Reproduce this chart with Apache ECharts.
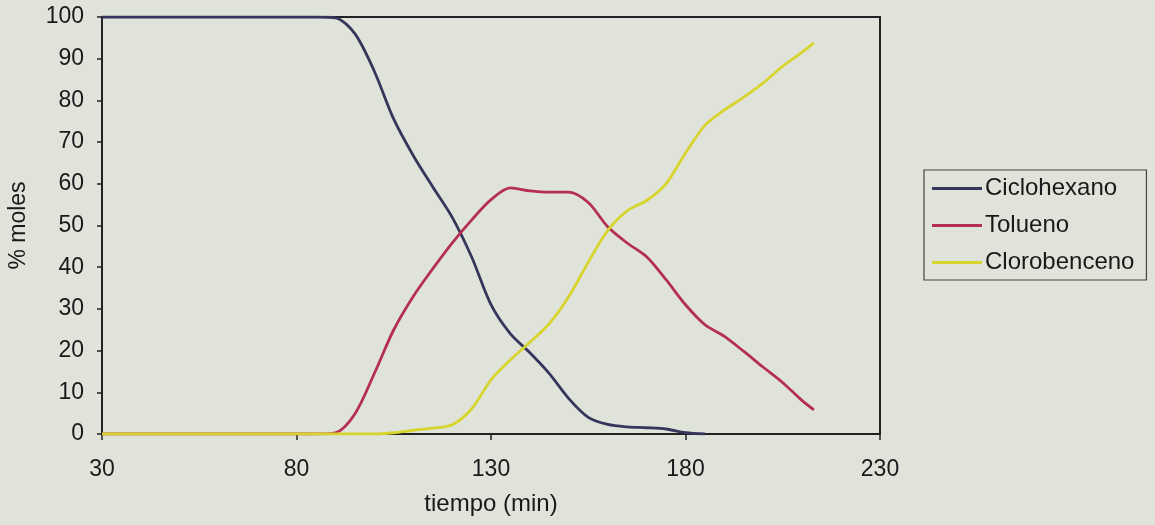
<!DOCTYPE html>
<html>
<head>
<meta charset="utf-8">
<script src="https://cdn.jsdelivr.net/npm/echarts@6/dist/echarts.min.js"></script>
<style>
  html, body { margin: 0; padding: 0; background: #dfe3da; }
  #chart { width: 1155px; height: 525px; }
</style>
</head>
<body>
<div id="chart"></div>
<script>
// Composición de la mezcla (% moles) frente al tiempo de destilación
const tiempo = [30, 35, 40, 45, 50, 55, 60, 65, 70, 75, 80, 85, 90, 95, 100, 105, 110, 115, 120, 125, 130,
  135, 140, 145, 150, 155, 160, 165, 170, 175, 180, 185, 190, 195, 200, 205, 210, 213];

const ciclohexano = [100, 100, 100, 100, 100, 100, 100, 100, 100, 100, 100, 100, 99.8, 96, 87, 75.5, 66.8, 59.3, 52, 42.5, 31,
  24, 19.5, 14.5, 8.5, 4, 2.3, 1.7, 1.5, 1.2, 0.3, 0, null, null, null, null, null, null];

const tolueno = [0, 0, 0, 0, 0, 0, 0, 0, 0, 0, 0, 0, 0.3, 4.8, 14.5, 25, 33, 39.6, 45.8, 51.3, 56.2,
  59, 58.3, 58, 58, 55.5, 49.7, 45.8, 42.5, 37, 31, 26.2, 23.4, 19.8, 16, 12.3, 8, 5.8];

const clorobenceno = [0, 0, 0, 0, 0, 0, 0, 0, 0, 0, 0, 0, 0, 0, 0, 0.3, 0.9, 1.4, 2.2, 6, 13,
  17.8, 22, 26.5, 33, 41.2, 48.8, 53.5, 56, 60, 67.4, 74, 77.7, 80.8, 84.2, 88.2, 91.6, 93.8];

const xTicks = [30, 80, 130, 180, 230];

const colores = { ciclohexano: '#36365c', tolueno: '#b52f50', clorobenceno: '#d8d42e' };
const fuente = 'Liberation Sans, Arial, sans-serif';
const tinta = '#191919';

function serie(nombre, valores, color) {
  return {
    name: nombre,
    type: 'line',
    data: tiempo.map((t, i) => [t, valores[i]]).filter(p => p[1] !== null),
    showSymbol: false,
    smooth: 0.3,
    lineStyle: { color: color, width: 2.8 },
    itemStyle: { color: color },
    z: 3
  };
}

const chart = echarts.init(document.getElementById('chart'));
chart.setOption({
  backgroundColor: '#dfe3da',
  animation: false,
  textStyle: { fontFamily: fuente },
  grid: {
    left: 102, top: 17, width: 778, height: 417,
    outerBoundsMode: 'none',
    containLabel: false,
    show: true, borderColor: '#222', borderWidth: 2, backgroundColor: 'transparent'
  },
  legend: {
    orient: 'vertical',
    left: 924, top: 170,
    padding: [6, 12, 5, 8],
    itemGap: 12,
    itemWidth: 50, itemHeight: 3,
    icon: 'rect',
    borderColor: '#444', borderWidth: 1.2,
    textStyle: { fontSize: 24, lineHeight: 25, color: tinta, fontFamily: fuente, padding: [0, 0, 0, -2] },
    data: ['Ciclohexano', 'Tolueno', 'Clorobenceno']
  },
  xAxis: {
    type: 'value',
    min: 30, max: 230, interval: 50,
    name: 'tiempo (min)',
    nameLocation: 'middle', nameGap: 58,
    nameTextStyle: { fontSize: 24, color: tinta, fontFamily: fuente },
    axisLine: { show: true, lineStyle: { color: '#222', width: 2 } },
    axisTick: { show: true, length: 6, lineStyle: { color: '#222', width: 1.5 } },
    axisLabel: { fontSize: 23, color: tinta, margin: 24, fontFamily: fuente,
      customValues: xTicks },
    splitLine: { show: false }
  },
  yAxis: {
    type: 'value',
    min: 0, max: 100, interval: 10,
    name: '% moles',
    nameLocation: 'middle', nameGap: 72, nameRotate: 90,
    nameTextStyle: { fontSize: 23, color: tinta, fontFamily: fuente },
    axisLine: { show: true, lineStyle: { color: '#222', width: 2 } },
    axisTick: { show: true, length: 5, lineStyle: { color: '#222', width: 1.5 } },
    axisLabel: { fontSize: 23, color: tinta, margin: 18, fontFamily: fuente },
    splitLine: { show: false }
  },
  series: [
    serie('Ciclohexano', ciclohexano, colores.ciclohexano),
    serie('Tolueno', tolueno, colores.tolueno),
    serie('Clorobenceno', clorobenceno, colores.clorobenceno)
  ]
});
</script>
</body>
</html>
